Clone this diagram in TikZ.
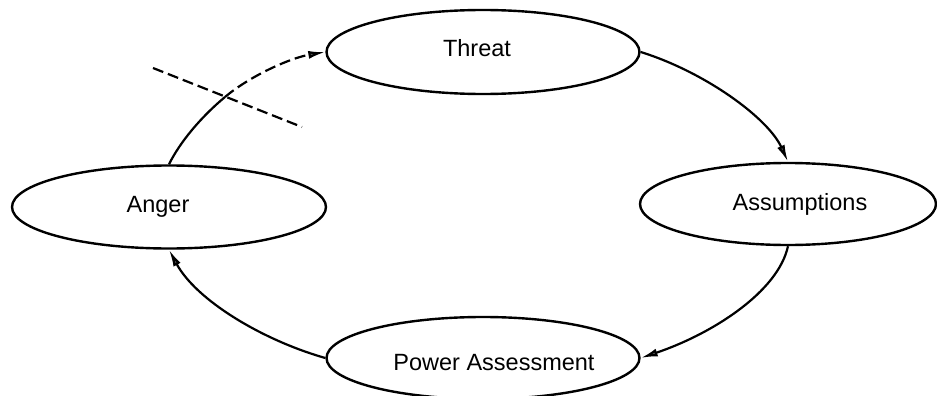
\documentclass[tikz,border=0pt]{standalone}
\usepackage{fontspec}
\setmainfont{Liberation Sans}
\usetikzlibrary{shapes.geometric,arrows.meta}
\begin{document}
\begin{tikzpicture}[x=1pt,y=-1pt,
  state/.style={ellipse,draw,line width=2.4pt,inner sep=0pt},
  caption/.style={font=\fontsize{23.5}{26}\selectfont},
  flow/.style={line width=2.2pt,
    -{Latex[length=17pt,width=8pt,fill=black!65]}},
  cut/.style={line width=2.2pt,dash pattern=on 11pt off 5pt}]
\useasboundingbox (0,0) rectangle (937,396);

\node[state,minimum width=313pt,minimum height=84pt,
  label={[caption,xshift=-6pt,yshift=4pt]center:Threat}] (threat) at (483,52) {};
\node[state,minimum width=296pt,minimum height=82pt,
  label={[caption,xshift=12pt]center:Assumptions}] (assump) at (788,204) {};
\node[state,minimum width=314pt,minimum height=83pt,
  label={[caption,xshift=-11pt]center:Anger}] (anger) at (169,207) {};
\node[state,minimum width=313pt,minimum height=82pt,
  label={[caption,xshift=11pt,yshift=-5pt]center:Power Assessment}] (power) at (483,358) {};

% cycle of arrows
\draw[flow] (threat.east) .. controls (705,72) and (768,118) .. (assump.north);
\draw[flow] (assump.south) .. controls (778,292) and (712,334) .. (power.east);
\draw[flow] (power.west) .. controls (262,340) and (196,300) .. (anger.south);

% anger back to threat, interrupted part dashed
\coordinate (cross) at (225,97);
\draw[line width=2.2pt] (anger.north) .. controls (180,142) and (201,117) .. (cross);
\draw[flow,dash pattern=on 11pt off 5pt] (cross) .. controls (250,76) and (290,58) .. (threat.west);

% cutting line across the link
\coordinate (cutA) at (153,68);
\coordinate (cutB) at (302,127);
\draw[cut] (cutA) -- (cutB);
\end{tikzpicture}
\end{document}
